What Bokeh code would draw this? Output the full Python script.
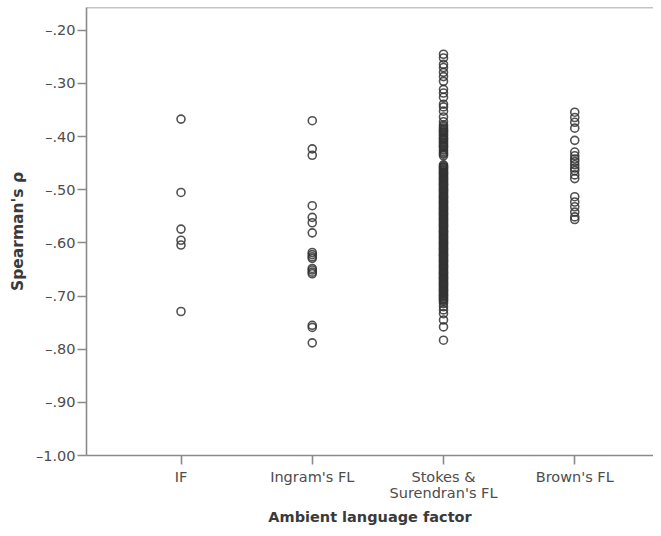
from bokeh.plotting import figure
from bokeh.models import ColumnDataSource, FixedTicker, CustomJSTickFormatter, Range1d, Span
from bokeh.embed import file_html
from bokeh.resources import INLINE

categories = ["IF", "Ingram's FL", "Stokes &\nSurendran's FL", "Brown's FL"]

if_values = [-0.367, -0.505, -0.574, -0.595, -0.604, -0.729]

ingram_values = [-0.370, -0.423, -0.435, -0.530, -0.552, -0.562, -0.581,
                 -0.618, -0.622, -0.626, -0.629, -0.648, -0.651, -0.655,
                 -0.658, -0.755, -0.759, -0.788]

stokes_values = [-0.245, -0.252, -0.264, -0.270, -0.279, -0.287, -0.296,
                 -0.311, -0.318, -0.326, -0.339, -0.344, -0.352, -0.363,
                 -0.372, -0.378, -0.381, -0.384, -0.387, -0.389, -0.391,
                 -0.393, -0.396, -0.398, -0.401, -0.403, -0.405, -0.407,
                 -0.410, -0.412, -0.415, -0.417, -0.419, -0.421, -0.425,
                 -0.428, -0.431, -0.433, -0.436,
                 -0.453, -0.455, -0.457, -0.458, -0.460, -0.462, -0.464,
                 -0.466, -0.468, -0.469, -0.471, -0.473, -0.475, -0.477,
                 -0.479, -0.480, -0.482, -0.484, -0.486, -0.488, -0.490,
                 -0.491, -0.493, -0.495, -0.497, -0.499, -0.501, -0.502,
                 -0.504, -0.506, -0.508, -0.510, -0.512, -0.513, -0.515,
                 -0.517, -0.519, -0.521, -0.523, -0.524, -0.526, -0.528,
                 -0.530, -0.532, -0.534, -0.535, -0.537, -0.539, -0.541,
                 -0.543, -0.545, -0.546, -0.548, -0.550, -0.552, -0.554,
                 -0.556, -0.557, -0.559, -0.561, -0.563, -0.565, -0.567,
                 -0.568, -0.570, -0.572, -0.574, -0.576, -0.578, -0.579,
                 -0.581, -0.583, -0.585, -0.587, -0.589, -0.590, -0.592,
                 -0.594, -0.596, -0.598, -0.600, -0.601, -0.603, -0.605,
                 -0.607, -0.609, -0.611, -0.612, -0.614, -0.616, -0.618,
                 -0.620, -0.622, -0.623, -0.625, -0.627, -0.629, -0.631,
                 -0.633, -0.634, -0.636, -0.638, -0.640, -0.642, -0.644,
                 -0.645, -0.647, -0.649, -0.651, -0.653, -0.655, -0.656,
                 -0.658, -0.660, -0.662, -0.664, -0.666, -0.667, -0.669,
                 -0.671, -0.673, -0.675, -0.677, -0.678, -0.680, -0.682,
                 -0.684, -0.686, -0.688, -0.689, -0.691, -0.693, -0.695,
                 -0.697, -0.699, -0.700, -0.702, -0.704, -0.706, -0.708,
                 -0.710, -0.714, -0.720, -0.726, -0.733, -0.745, -0.758,
                 -0.783]

brown_values = [-0.354, -0.364, -0.373, -0.384, -0.407, -0.429, -0.436,
                -0.442, -0.447, -0.453, -0.459, -0.464, -0.472, -0.479,
                -0.513, -0.523, -0.532, -0.542, -0.551, -0.556]

y_ticks = [-1.0, -0.9, -0.8, -0.7, -0.6, -0.5, -0.4, -0.3, -0.2]

series = [if_values, ingram_values, stokes_values, brown_values]
xs, ys = [], []
for i, vals in enumerate(series):
    xs += [i] * len(vals)
    ys += vals
src = ColumnDataSource(dict(x=xs, y=ys))

FONT = "DejaVu Sans"
AX = "#8a8a8a"
TXT = "#4d4d4d"

p = figure(width=653, height=528, output_backend="svg", toolbar_location=None,
           x_range=Range1d(-0.72, 3.6), y_range=Range1d(-1.0, -0.157),
           min_border_left=86, min_border_right=0, min_border_top=7, min_border_bottom=0)
p.outline_line_color = None
p.grid.visible = False
p.background_fill_color = "white"

p.scatter("x", "y", source=src, marker="circle", size=8, fill_color=None,
          line_color="#333333", line_alpha=0.85, line_width=1.6)

yax = p.yaxis[0]
yax.ticker = FixedTicker(ticks=y_ticks)
yax.formatter = CustomJSTickFormatter(code="""
    const s = Math.abs(tick).toFixed(2);
    const t = s.startsWith('0') ? s.substring(1) : s;
    return (tick < 0 ? '\u2013' : '') + t;
""")
yax.axis_label = "Spearman's \u03c1"

xax = p.xaxis[0]
xax.ticker = FixedTicker(ticks=list(range(len(categories))))
xax.major_label_overrides = {i: c for i, c in enumerate(categories)}
xax.axis_label = "Ambient language factor"

for ax in (xax, yax):
    ax.axis_line_color = AX
    ax.axis_line_width = 1.6
    ax.major_tick_line_color = AX
    ax.major_tick_line_width = 1.6
    ax.major_tick_out = 9
    ax.major_tick_in = 0
    ax.minor_tick_line_color = None
    ax.major_label_text_font = FONT
    ax.major_label_text_font_size = "14.5px"
    ax.major_label_text_color = TXT
    ax.axis_label_text_font = FONT
    ax.axis_label_text_font_size = "14.5px"
    ax.axis_label_text_font_style = "bold"
    ax.axis_label_text_color = "#3a3a3a"

yax.axis_label_text_font_size = "15.5px"
yax.major_label_standoff = 2
yax.axis_label_standoff = 6
xax.major_label_standoff = 4
xax.major_label_text_line_height = 1.05
xax.axis_label_standoff = 5

top_line = Span(location=-0.157, dimension="width", line_color=AX, line_width=1.6)
p.add_layout(top_line)

open("out.html", "w").write(file_html(p, INLINE))
